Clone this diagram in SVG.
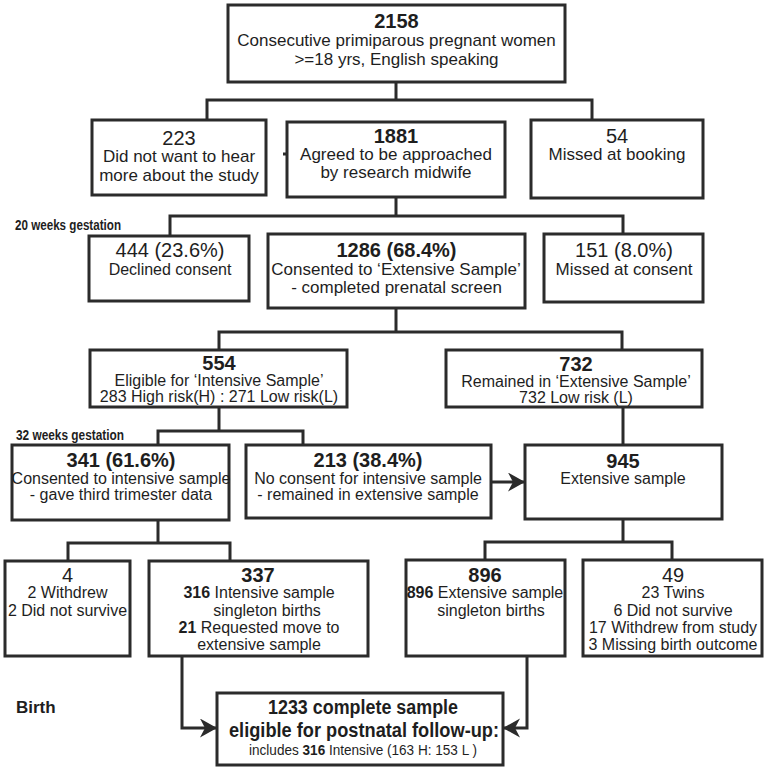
<svg xmlns="http://www.w3.org/2000/svg" width="767" height="770" viewBox="0 0 767 770">
<style>
.box{fill:#fff;stroke:#2b2b2b;stroke-width:3}
.ln{fill:none;stroke:#2b2b2b;stroke-width:3}
text{font-family:"Liberation Sans",Arial,Helvetica,sans-serif;fill:#1e1e1e;text-anchor:middle}
.t17{font-size:17px}
.t16{font-size:16px}
.n{font-size:20px}
.nb{font-size:20px;font-weight:bold}
.side{font-size:15px;font-weight:bold;text-anchor:start}
.b{font-weight:bold}
</style>
<defs>
<marker id="ah" markerUnits="userSpaceOnUse" markerWidth="19" markerHeight="20" refX="16" refY="9.5" orient="auto" viewBox="0 0 19 20">
<path d="M0,0 L17,9.5 L0,19 L5,9.5 Z" fill="#2b2b2b"/>
</marker>
</defs>
<rect width="767" height="770" fill="#fff"/>
<g id="connectors">
<path class="ln" d="M396,82 V100"/>
<path class="ln" d="M207,120 V100 H592 V120"/>
<path class="ln" d="M283,154 H289"/>
<path class="ln" d="M396,197 V216"/>
<path class="ln" d="M170,236 V216 H623 V234"/>
<path class="ln" d="M396,308 V332"/>
<path class="ln" d="M219,350 V332 H622 V350"/>
<path class="ln" d="M219,407 V431"/>
<path class="ln" d="M158,445 V431 H303 V445"/>
<path class="ln" d="M623,407 V445"/>
<path class="ln" d="M491,482 H524" marker-end="url(#ah)"/>
<path class="ln" d="M158,520 V543"/>
<path class="ln" d="M68,561 V543 H230 V561"/>
<path class="ln" d="M623,519 V542"/>
<path class="ln" d="M485,560 V542 H672 V560"/>
<path class="ln" d="M182,656 V728 H216" marker-end="url(#ah)"/>
<path class="ln" d="M527,656 V728 H504" marker-end="url(#ah)"/>
</g>
<g id="labels">
<text class="side" x="15" y="230" textLength="106" lengthAdjust="spacingAndGlyphs">20 weeks gestation</text>
<text class="side" x="16" y="440" textLength="108" lengthAdjust="spacingAndGlyphs">32 weeks gestation</text>
<text x="16" y="713" style="font-size:17px;font-weight:bold;text-anchor:start">Birth</text>
</g>
<g id="n2158">
<rect class="box" x="228" y="5" width="337" height="77"/>
<text class="nb" x="396.5" y="28">2158</text>
<text class="t17" x="396.5" y="46">Consecutive primiparous pregnant women</text>
<text class="t17" x="396.5" y="65">&gt;=18 yrs, English speaking</text>
</g>
<g id="n223">
<rect class="box" x="92" y="120" width="174" height="75"/>
<text class="n" x="179" y="145">223</text>
<text class="t17" x="179" y="162">Did not want to hear</text>
<text class="t17" x="179" y="181">more about the study</text>
</g>
<g id="n1881">
<rect class="box" x="287" y="122" width="218" height="75"/>
<text class="nb" x="396" y="143">1881</text>
<text class="t17" x="396" y="160">Agreed to be approached</text>
<text class="t17" x="396" y="178">by research midwife</text>
</g>
<g id="n54">
<rect class="box" x="531" y="120" width="172" height="78"/>
<text class="n" x="617" y="143">54</text>
<text class="t17" x="617" y="160">Missed at booking</text>
</g>
<g id="n444">
<rect class="box" x="89" y="236" width="160" height="65"/>
<text class="n" x="170" y="257">444 (23.6%)</text>
<text class="t16" x="170" y="275">Declined consent</text>
</g>
<g id="n1286">
<rect class="box" x="268" y="234" width="257" height="74"/>
<text class="nb" x="396.5" y="257">1286 (68.4%)</text>
<text class="t17" x="396" y="275">Consented to ‘Extensive Sample’</text>
<text class="t17" x="396.5" y="293">- completed prenatal screen</text>
</g>
<g id="n151">
<rect class="box" x="544" y="234" width="159" height="68"/>
<text class="n" x="624" y="257">151 (8.0%)</text>
<text class="t17" x="624" y="275">Missed at consent</text>
</g>
<g id="n554">
<rect class="box" x="90" y="350" width="257" height="57"/>
<text class="nb" x="219" y="370">554</text>
<text class="t16" x="219" y="386">Eligible for ‘Intensive Sample’</text>
<text class="t16" x="219" y="402">283 High risk(H) : 271 Low risk(L)</text>
</g>
<g id="n732">
<rect class="box" x="446" y="350" width="256" height="57"/>
<text class="nb" x="576" y="371">732</text>
<text class="t16" x="576" y="387">Remained in ‘Extensive Sample’</text>
<text class="t16" x="576" y="403">732 Low risk (L)</text>
</g>
<g id="n341">
<rect class="box" x="12" y="445" width="217" height="75"/>
<text class="nb" x="121" y="467">341 (61.6%)</text>
<text class="t16" x="121" y="484">Consented to intensive sample</text>
<text class="t16" x="121" y="500">- gave third trimester data</text>
</g>
<g id="n213">
<rect class="box" x="246" y="445" width="245" height="73"/>
<text class="nb" x="368" y="467">213 (38.4%)</text>
<text class="t16" x="368" y="484">No consent for intensive sample</text>
<text class="t16" x="368" y="500">- remained in extensive sample</text>
</g>
<g id="n945">
<rect class="box" x="525" y="445" width="197" height="74"/>
<text class="nb" x="623" y="468">945</text>
<text class="t16" x="623" y="484">Extensive sample</text>
</g>
<g id="n4">
<rect class="box" x="5" y="561" width="125" height="95"/>
<text class="n" x="67.5" y="582">4</text>
<text class="t16" x="67.5" y="598">2 Withdrew</text>
<text class="t16" x="67.5" y="616">2 Did not survive</text>
</g>
<g id="n337">
<rect class="box" x="149" y="561" width="219" height="95"/>
<text class="nb" x="258" y="582">337</text>
<text class="t16" x="259" y="598"><tspan class="b">316</tspan> Intensive sample</text>
<text class="t16" x="267" y="616">singleton births</text>
<text class="t16" x="259" y="633"><tspan class="b">21</tspan> Requested move to</text>
<text class="t16" x="259" y="650">extensive sample</text>
</g>
<g id="n896">
<rect class="box" x="406" y="560" width="159" height="96"/>
<text class="nb" x="485" y="582">896</text>
<text class="t16" x="485" y="598"><tspan class="b">896</tspan> Extensive sample</text>
<text class="t16" x="491" y="616">singleton births</text>
</g>
<g id="n49">
<rect class="box" x="583" y="560" width="179" height="96"/>
<text class="n" x="673" y="582">49</text>
<text class="t16" x="673" y="598">23 Twins</text>
<text class="t16" x="673" y="616">6 Did not survive</text>
<text class="t16" x="673" y="633">17 Withdrew from study</text>
<text class="t16" x="673" y="650">3 Missing birth outcome</text>
</g>
<g id="n1233">
<rect class="box" x="217" y="693" width="286" height="72"/>
<text x="363" y="714" style="font-size:20px;font-weight:bold" textLength="190" lengthAdjust="spacingAndGlyphs">1233 complete sample</text>
<text x="364" y="737" style="font-size:20px;font-weight:bold" textLength="270" lengthAdjust="spacingAndGlyphs">eligible for postnatal follow-up:</text>
<text x="363" y="755" style="font-size:14px" textLength="228" lengthAdjust="spacingAndGlyphs">includes <tspan class="b">316</tspan> Intensive (163 H: 153 L )</text>
</g>
</svg>
